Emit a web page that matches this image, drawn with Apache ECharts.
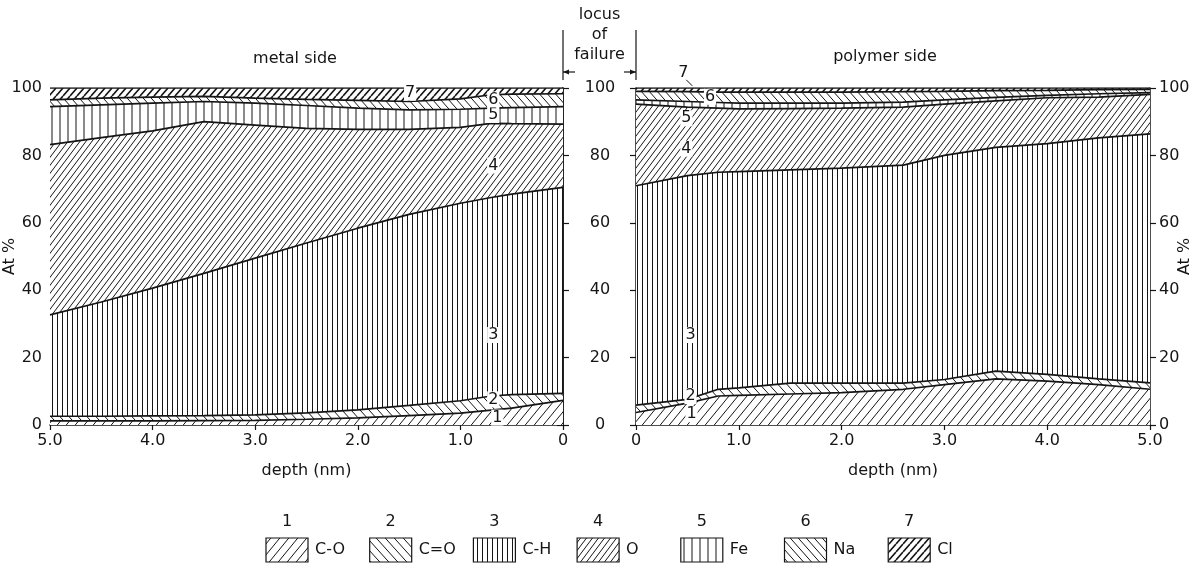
<!DOCTYPE html>
<html><head><meta charset="utf-8">
<script src="https://cdn.jsdelivr.net/npm/echarts/dist/echarts.min.js"></script>
<style>html,body{margin:0;padding:0;background:#fff}#c{width:1195px;height:572px}</style>
</head><body><div id="c"></div>
<script>
// ---------- data (cumulative layer tops, At %) ----------
const layerNums  = ['1','2','3','4','5','6','7'];
const layerNames = ['C-O','C=O','C-H','O','Fe','Na','Cl'];
const depthTicks = [0, 1, 2, 3, 4, 5];
const yTicks = [0, 20, 40, 60, 80, 100];

const metalDepth = [5.0, 4.5, 4.0, 3.5, 3.0, 2.5, 2.0, 1.5, 1.0, 0.7, 0.5, 0];
const metalTop1 = [1.2, 1.2, 1.2, 1.3, 1.4, 1.7, 2.1, 2.8, 3.5, 4.4, 5.0, 7.3];
const metalTop2 = [2.6, 2.6, 2.7, 2.8, 3.0, 3.6, 4.5, 5.8, 7.2, 8.6, 9.0, 9.4];
const metalTop3 = [32.7, 36.5, 40.6, 45.0, 49.5, 54.0, 58.4, 62.5, 65.8, 67.5, 68.5, 70.5];
const metalTop4 = [83.2, 85.3, 87.3, 90.0, 89.0, 88.0, 87.7, 87.7, 88.3, 89.5, 89.4, 89.3];
const metalTop5 = [94.5, 95.0, 95.5, 96.0, 95.5, 94.8, 94.0, 93.5, 93.7, 94.0, 94.2, 94.5];
const metalTop6 = [96.5, 97.0, 97.3, 97.5, 97.0, 96.6, 96.3, 96.0, 96.8, 98.0, 98.2, 98.3];
const metalTop7 = [100, 100, 100, 100, 100, 100, 100, 100, 100, 100, 100, 100];

const polyDepth = [0, 0.5, 0.8, 1.0, 1.5, 2.0, 2.6, 3.0, 3.5, 4.0, 4.5, 5.0];
const polyTop1 = [3.7, 6.5, 8.6, 8.8, 9.2, 9.6, 10.6, 12.0, 13.7, 13.0, 12.0, 10.6];
const polyTop2 = [5.9, 7.6, 10.6, 11.0, 12.4, 12.4, 12.4, 13.5, 16.0, 15.0, 13.7, 12.5];
const polyTop3 = [71.0, 74.0, 75.0, 75.2, 75.7, 76.2, 77.1, 80.0, 82.4, 83.5, 85.2, 86.4];
const polyTop4 = [95.2, 94.3, 94.0, 93.8, 93.9, 94.0, 94.3, 95.2, 96.2, 97.1, 97.3, 98.1];
const polyTop5 = [96.5, 96.0, 95.7, 95.5, 95.5, 95.5, 95.8, 96.5, 97.2, 97.8, 98.3, 98.6];
const polyTop6 = [99.0, 98.9, 98.8, 98.8, 98.8, 98.8, 98.9, 99.0, 99.2, 99.3, 99.5, 99.6];
const polyTop7 = [100, 100, 100, 100, 100, 100, 100, 100, 100, 100, 100, 100];

// in-plot layer number annotations [layer, depth, At%]
const metalLabelPos = [['1',0.64,2.2],['2',0.68,7.6],['3',0.68,26.7],['4',0.68,77],['5',0.68,92],['6',0.68,96.6],['7',1.49,98.6]];
const polyLabelPos  = [['1',0.54,3.2],['2',0.53,8.6],['3',0.53,26.7],['4',0.49,82],['5',0.49,91],['6',0.72,97.4]];
const polyLabel7 = ['7', 0.46, 104.5];

// ---------- styling ----------
const INK = '#151515';
const FONT = 'DejaVu Sans';

function hatch(kind, w, h, lw) {
  const c = document.createElement('canvas');
  c.width = w; c.height = h;
  const g = c.getContext('2d');
  g.fillStyle = '#fff'; g.fillRect(0, 0, w, h);
  g.strokeStyle = INK; g.lineWidth = lw;
  g.beginPath();
  if (kind === 'v') { g.moveTo(w / 2, 0); g.lineTo(w / 2, h); }
  else if (kind === '/') { for (let k = -1; k <= 1; k++) { g.moveTo(k * w, h); g.lineTo(k * w + w, 0); } }
  else { for (let k = -1; k <= 1; k++) { g.moveTo(k * w, 0); g.lineTo(k * w + w, h); } }
  g.stroke();
  return c;
}
const patterns = [
  hatch('/', 9, 11, 1),   // C-O
  hatch('\\', 9, 10, 1),  // C=O
  hatch('v', 5, 4, 1),    // C-H
  hatch('/', 6, 8, 1),    // O
  hatch('v', 8, 4, 1),    // Fe
  hatch('\\', 8, 9, 1),   // Na
  hatch('/', 7, 8, 1.6)   // Cl
];
const fill = i => ({ image: patterns[i], repeat: 'repeat' });

// Each layer: area from its top boundary down to 0, opaque pattern;
// drawn from the top layer downwards so lower layers cover the rest.
function makeSeries(gi, xs, bounds) {
  const out = [];
  for (let li = bounds.length - 1; li >= 0; li--) {
    out.push({
      type: 'line', xAxisIndex: gi, yAxisIndex: gi * 2,
      data: xs.map((x, i) => [x, bounds[li][i]]),
      symbol: 'none', showSymbol: false, silent: true, z: 2,
      lineStyle: { width: 0, opacity: 0 },
      areaStyle: { color: fill(li), opacity: 1, origin: 'start' }
    });
  }
  bounds.forEach(b => out.push({
    type: 'line', xAxisIndex: gi, yAxisIndex: gi * 2,
    data: xs.map((x, i) => [x, b[i]]),
    symbol: 'none', showSymbol: false, silent: true, z: 5,
    lineStyle: { color: INK, width: 1.7 }
  }));
  return out;
}

const txt = { color: INK, fontFamily: FONT, fontSize: 16 };
const fmtDepth = v => v === 0 ? '0' : v.toFixed(1);
function xAxis(gi, inverse) {
  return {
    gridIndex: gi, type: 'value', min: 0, max: 5, interval: 1, inverse: inverse,
    axisLine: { lineStyle: { color: INK, width: 1.5 } },
    axisTick: { show: true, length: 5, lineStyle: { color: INK, width: 1.2 } },
    axisLabel: Object.assign({ formatter: fmtDepth, margin: 8 }, txt),
    splitLine: { show: false },
    name: 'depth (nm)', nameLocation: 'middle', nameGap: 38, nameMoveOverlap: false, nameTextStyle: txt
  };
}
function yAxis(gi, pos, opts) {
  return Object.assign({
    gridIndex: gi, type: 'value', position: pos, min: 0, max: 100, interval: 20,
    axisLine: { show: true, lineStyle: { color: INK, width: 1.5 } },
    axisTick: { show: true, length: 6, lineStyle: { color: INK, width: 1.2 } },
    splitLine: { show: false }
  }, opts);
}

const chart = echarts.init(document.getElementById('c'), null, { renderer: 'canvas' });
const metalBounds = [metalTop1, metalTop2, metalTop3, metalTop4, metalTop5, metalTop6, metalTop7];
const polyBounds  = [polyTop1, polyTop2, polyTop3, polyTop4, polyTop5, polyTop6, polyTop7];

chart.setOption({
  backgroundColor: '#fff',
  animation: false,
  title: [
    { text: 'metal side', left: 290, top: 46, textAlign: 'center', textStyle: Object.assign({ fontWeight: 'normal' }, txt) },
    { text: 'polymer side', left: 880, top: 44, textAlign: 'center', textStyle: Object.assign({ fontWeight: 'normal' }, txt) }
  ],
  grid: [
    { left: 50, right: 632, top: 88, bottom: 147, outerBoundsMode: 'none' },
    { left: 636, right: 45, top: 88, bottom: 147, outerBoundsMode: 'none' }
  ],
  xAxis: [xAxis(0, true), xAxis(1, false)],
  yAxis: [
    yAxis(0, 'left', { axisLabel: Object.assign({ margin: 8 }, txt), name: 'At %', nameLocation: 'middle', nameGap: 32, nameMoveOverlap: false, nameRotate: 90, nameTextStyle: txt }),
    yAxis(0, 'right', { axisLabel: { show: false } }),
    yAxis(1, 'left', { axisLabel: Object.assign({ margin: 36, align: 'center' }, txt) }),
    yAxis(1, 'right', { axisLabel: Object.assign({ margin: 9 }, txt), name: 'At %', nameLocation: 'middle', nameGap: 27, nameMoveOverlap: false, nameRotate: 90, nameTextStyle: txt })
  ],
  series: [].concat(makeSeries(0, metalDepth, metalBounds), makeSeries(1, polyDepth, polyBounds))
});

// ---------- annotations ----------
const g = [];
function numLabel(gi, item) {
  const p = chart.convertToPixel({ xAxisIndex: gi, yAxisIndex: gi * 2 }, [item[1], item[2]]);
  g.push({ type: 'text', x: p[0], y: p[1], z: 50,
    style: { text: item[0], fill: INK, font: '16px ' + FONT, align: 'center', verticalAlign: 'middle',
             backgroundColor: '#fff', padding: [0, 1] } });
}
metalLabelPos.forEach(it => numLabel(0, it));
polyLabelPos.forEach(it => numLabel(1, it));
const p7 = chart.convertToPixel({ xAxisIndex: 1, yAxisIndex: 2 }, [polyLabel7[1], polyLabel7[2]]);
g.push({ type: 'text', x: p7[0], y: p7[1], z: 50, style: { text: polyLabel7[0], fill: INK, font: '16px ' + FONT, align: 'center', verticalAlign: 'middle' } });
g.push({ type: 'line', z: 50, shape: { x1: p7[0] + 3, y1: p7[1] + 7, x2: p7[0] + 9, y2: p7[1] + 13 }, style: { stroke: INK, lineWidth: 1 } });

// locus of failure
const lx = chart.convertToPixel({ xAxisIndex: 0, yAxisIndex: 0 }, [0, 100]);
const rx = chart.convertToPixel({ xAxisIndex: 1, yAxisIndex: 2 }, [0, 100]);
const mid = (lx[0] + rx[0]) / 2;
['locus', 'of', 'failure'].forEach((t, i) => g.push({ type: 'text', x: mid, y: 15 + i * 20, z: 50,
  style: { text: t, fill: INK, font: '16px ' + FONT, align: 'center', verticalAlign: 'middle' } }));
[lx[0], rx[0]].forEach(x => g.push({ type: 'line', shape: { x1: x, y1: 30, x2: x, y2: 80 }, style: { stroke: INK, lineWidth: 1.2 } }));
const ay = 72;
g.push({ type: 'line', shape: { x1: lx[0] + 12, y1: ay, x2: lx[0], y2: ay }, style: { stroke: INK, lineWidth: 1.2 } });
g.push({ type: 'polygon', shape: { points: [[lx[0], ay], [lx[0] + 6, ay - 2.5], [lx[0] + 6, ay + 2.5]] }, style: { fill: INK } });
g.push({ type: 'line', shape: { x1: rx[0] - 12, y1: ay, x2: rx[0], y2: ay }, style: { stroke: INK, lineWidth: 1.2 } });
g.push({ type: 'polygon', shape: { points: [[rx[0], ay], [rx[0] - 6, ay - 2.5], [rx[0] - 6, ay + 2.5]] }, style: { fill: INK } });

// pattern legend
const legX0 = 266, legStep = 103.7, boxW = 42, boxH = 24, boxY = 538;
layerNames.forEach((nm, i) => {
  const x = legX0 + i * legStep;
  g.push({ type: 'rect', shape: { x: x, y: boxY, width: boxW, height: boxH },
    style: { fill: fill(i), stroke: INK, lineWidth: 1.2 } });
  g.push({ type: 'text', x: x + boxW / 2, y: 522, style: { text: layerNums[i], fill: INK, font: '16px ' + FONT, align: 'center', verticalAlign: 'middle' } });
  g.push({ type: 'text', x: x + boxW + 7, y: boxY + boxH / 2, style: { text: nm, fill: INK, font: '16px ' + FONT, align: 'left', verticalAlign: 'middle' } });
});

chart.setOption({ graphic: g });
</script>
</body></html>
